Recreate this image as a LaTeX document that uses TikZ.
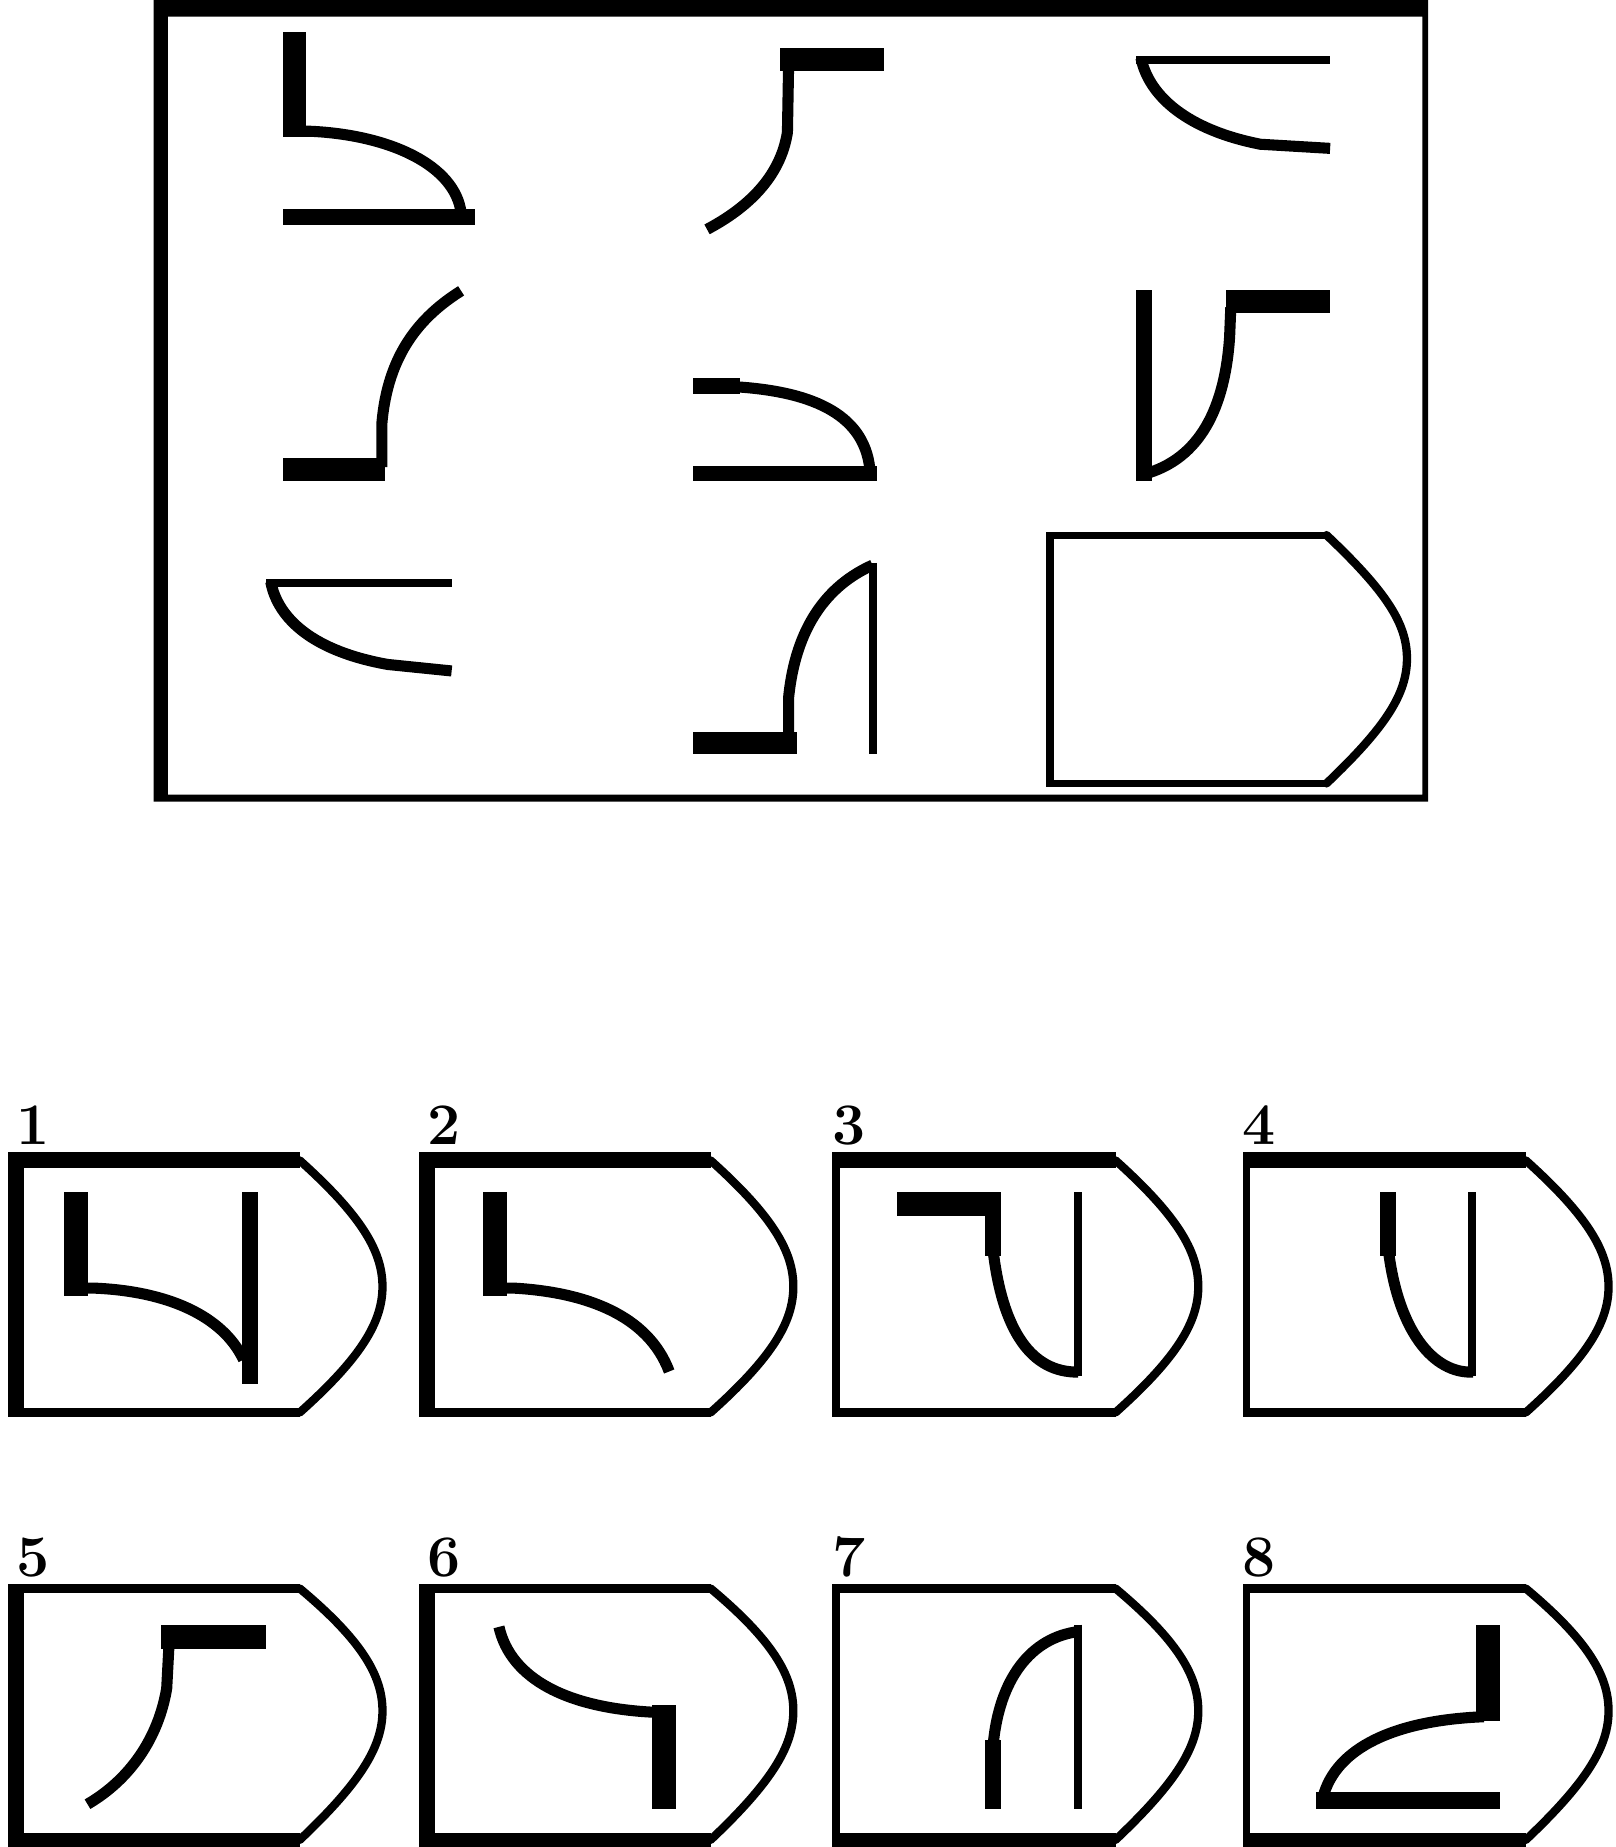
\documentclass[tikz,border=0pt]{standalone}
\usepackage{tikz}

\tikzset{
  arcline/.style={line width=3.2pt},
  hairline/.style={line width=2.2pt},
  sideline/.style={line width=2.4pt, line cap=round, line join=round},
  optnum/.style={anchor=base west, inner sep=0pt, font=\fontsize{17}{17}\selectfont\bfseries}
}

\begin{document}
\begin{tikzpicture}[x=0.012cm, y=-0.012cm]
\useasboundingbox (0,0) rectangle (1366,1562.2);

% outer frame of the puzzle
\fill[even odd rule] (130,0) rectangle (1208,678) (142,14) rectangle (1203,672);

% row 1
\fill (239,27) rectangle (259,116);
\fill (239,177) rectangle (402,190);
\draw[arcline] (255,111) -- (262,111) .. controls (330,114) and (385,140) .. (390,180);

\fill (660,41) rectangle (748,60);
\draw[arcline] (667,55) -- (666,112) .. controls (660,150) and (632,176) .. (598,194);

\draw[hairline] (961,51) -- (1125,51);
\draw[arcline] (965,49) .. controls (972,82) and (1005,110) .. (1066,122) -- (1125,125.5);

% row 2
\fill (239,387) rectangle (326,407);
\draw[arcline] (323,395) -- (323,358) .. controls (328,300) and (355,268) .. (390,246);

\fill (586,320) rectangle (626,333);
\fill (586,394) rectangle (742,407);
\draw[arcline] (620,327) .. controls (690,331) and (733,352) .. (736,400);

\fill (961,245) rectangle (974,407);
\fill (1037,245) rectangle (1125,265);
\draw[arcline] (1041,260) -- (1040,285) .. controls (1036,345) and (1015,388) .. (968,401);

% row 3
\draw[hairline] (225,493) -- (382,493);
\draw[arcline] (229,492) .. controls (235,524) and (266,551) .. (328,562) -- (382,567.5);

\fill (586,619) rectangle (674,638);
\draw[hairline] (738.5,476) -- (738.5,638);
\draw[arcline] (667,625) -- (667,590) .. controls (673,530) and (700,495) .. (738,478);

% empty cell
\coordinate (q) at (891.6,455.6);
\fill (884.6,449.6) rectangle (1122,455.6);
\fill (884.6,449.6) rectangle (891.6,665.6);
\fill (884.6,659.6) rectangle (1122,665.6);
\draw[sideline] (1122,452.6) .. controls (1172,500) and (1190,527) .. (1190,557)
  .. controls (1190,587) and (1172,615) .. (1122,662.6);

% answer boxes
\foreach \ox/\oy/\ol/\ot/\ob/\n in {20.5/988.2/14/13.5/7/1, 368/988.2/14/13.5/7/2,
    710.5/988.2/6.5/13.5/7/3, 1057.5/988.2/6.5/13.5/7/4,
    20.5/1347/14/7/12.4/5, 368/1347/14/7/12.4/6,
    710.5/1347/6.5/7/12.4/7, 1057.5/1347/6.5/7/12.4/8}{
  \fill ({\ox-\ol},{\oy-\ot}) rectangle ({\ox+233},{\oy});
  \fill ({\ox-\ol},{\oy-\ot}) rectangle ({\ox},{\oy+203+\ob});
  \fill ({\ox-\ol},{\oy+203}) rectangle ({\ox+233},{\oy+203+\ob});
  \draw[sideline] ({\ox+233},{\oy-\ot/2})
    .. controls ({\ox+285},{\oy+40}) and ({\ox+303},{\oy+70}) .. ({\ox+303},{\oy+100})
    .. controls ({\ox+303},{\oy+130}) and ({\ox+285},{\oy+160}) .. ({\ox+233},{\oy+203+\ob/2});
  \node[optnum] (opt\n) at ({\ox-7},{\oy-\ot-6.5}) {\n};
}

% option 1
\fill (54.3,1008.5) rectangle (74.8,1096);
\fill (204.4,1008.5) rectangle (218.2,1171);
\draw[arcline] (70,1089.5) -- (80,1089.5) .. controls (140,1092) and (188,1112) .. (206,1150);

% option 2
\fill (408.7,1008.5) rectangle (429.2,1096.4);
\draw[arcline] (425,1089.5) -- (435,1089.5) .. controls (495,1093) and (548,1112) .. (566,1160);

% option 3
\fill (758.4,1008.5) rectangle (846.9,1028.8);
\fill (833,1020) rectangle (847,1062);
\draw[hairline] (911.5,1008.5) -- (911.5,1164);
\draw[arcline] (840,1058) .. controls (848,1125) and (872,1161) .. (912,1160.5);

% option 4
\fill (1167.2,1008.5) rectangle (1180.5,1062.6);
\draw[hairline] (1245,1008.5) -- (1245,1164);
\draw[arcline] (1174,1055) .. controls (1182,1125) and (1212,1162) .. (1246,1160.5);

% option 5
\fill (136.2,1374) rectangle (224.8,1394.3);
\draw[arcline] (143,1390) -- (141,1428) .. controls (134,1470) and (110,1505) .. (74,1526);

% option 6
\fill (551.6,1441.7) rectangle (571.7,1529.7);
\draw[arcline] (422,1376) .. controls (432,1420) and (480,1446) .. (560,1448.5);

% option 7
\draw[hairline] (911.5,1374) -- (911.5,1529.7);
\fill (833,1472) rectangle (847,1529.7);
\draw[arcline] (840,1476) .. controls (845,1420) and (872,1385) .. (912,1380);

% option 8
\fill (1248.3,1374) rectangle (1268.6,1455.2);
\fill (1112.8,1516) rectangle (1268.6,1529.7);
\draw[arcline] (1255,1452) .. controls (1180,1455) and (1130,1478) .. (1119,1520);
\end{tikzpicture}
\end{document}
